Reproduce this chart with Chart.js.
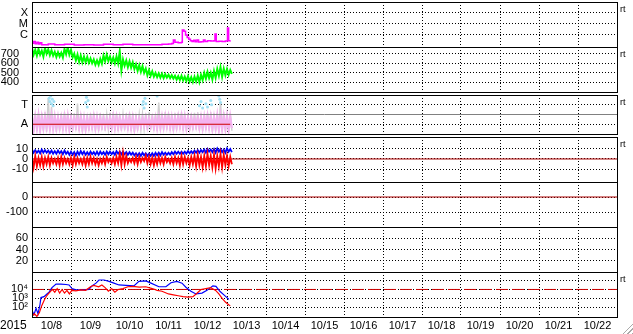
<!DOCTYPE html>
<html>
<head>
<meta charset="utf-8">
<script src="https://cdn.jsdelivr.net/npm/chart.js@4"></script>
<style>
  body { margin: 0; background: #fff; width: 633px; height: 334px; overflow: hidden; position: relative; }
  .p { position: absolute; left: 0; }
  .p canvas { display: block; }
  .grip { position: absolute; right: 0; bottom: 0; width: 13px; height: 13px;
          background: repeating-linear-gradient(135deg, transparent 0 2px, #aaa 2px 3px);
          clip-path: polygon(100% 0, 100% 100%, 0 100%); }
</style>
</head>
<body>
<div class="p" style="top:1px"><canvas id="xray" width="633" height="47"></canvas></div>
<div class="p" style="top:46px"><canvas id="speed" width="633" height="47"></canvas></div>
<div class="p" style="top:91px"><canvas id="phi" width="633" height="47"></canvas></div>
<div class="p" style="top:136px"><canvas id="bfield" width="633" height="47"></canvas></div>
<div class="p" style="top:181px"><canvas id="dst" width="633" height="47"></canvas></div>
<div class="p" style="top:226px"><canvas id="kp" width="633" height="47"></canvas></div>
<div class="p" style="top:271px"><canvas id="elec" width="633" height="63"></canvas></div>
<div class="grip"></div>
<script>
// time axis: hours since 10/8 00:00
const dayLabels = ['10/8','10/9','10/10','10/11','10/12','10/13','10/14','10/15','10/16','10/17','10/18','10/19','10/20','10/21','10/22'];
const yearLabel = '2015';
const BIN = 2; // hours per hi/lo bin
const dataEnd = 122;

// X-ray flux
const xrayHours = [0,1,2,3,4,5,6,10,14,20,26,32,38,44,50,56,62,70,76,80,84,86,87,88,90,92,92.5,93.5,94.5,95.5,96.5,97.5,98.5,99.5,100.5,101.5,102.5,104,105.5,106.5,108,110,112,112.6,113.4,115,117,119,120.3,121,122];
const xrayFlux = [1.8e-7,2.5e-7,1.6e-7,2.2e-7,1.5e-7,2.0e-7,1.3e-7,1.5e-7,1.3e-7,1.4e-7,1.2e-7,1.3e-7,1.2e-7,1.4e-7,1.25e-7,1.4e-7,1.25e-7,1.3e-7,1.25e-7,1.4e-7,1.5e-7,1.7e-7,3.5e-7,2.2e-7,2.0e-7,2.2e-7,2.8e-6,2.2e-6,1.0e-6,6e-7,4e-7,3e-7,2.5e-7,3.3e-7,2.4e-7,3.4e-7,2.3e-7,2.4e-7,3.5e-7,2.6e-7,3e-7,2.8e-7,2.9e-7,1.2e-6,2.6e-7,2.7e-7,2.6e-7,2.8e-7,4.3e-6,3e-7,3.1e-7];
const xrayTicks = [1e-4, 1e-5, 1e-6];
const xrayTickLabels = ['X', 'M', 'C'];

// solar wind speed, 2h bins
const speedHi = [760,740,750,730,760,745,735,720,715,710,750,770,740,700,690,680,670,665,650,640,630,645,680,690,670,660,670,725,640,630,620,610,590,580,570,545,530,515,500,495,490,485,480,475,470,465,470,460,465,455,460,470,480,500,510,500,520,540,560,545,540,530];
const speedLo = [690,680,690,670,700,685,680,665,670,660,695,690,660,630,615,610,610,605,600,585,585,595,620,625,610,600,600,525,575,560,555,540,520,510,500,475,470,460,455,450,445,450,445,440,430,425,420,415,410,405,410,405,425,440,445,430,450,470,460,475,480,490];
const speedTicks = [700, 600, 500, 400];

// IMF angle (T / A sectors), 2h bins
const pinkHi = [165,160,170,155,160,150,165,160,155,150,160,165,150,145,150,155,150,145,150,160,155,150,145,140,150,160,155,150,145,150,155,150,145,140,145,150,140,145,150,155,160,165,160,155,150,160,165,160,155,150,145,150,155,160,165,160,155,170,165,160,165,160];
const pinkLo = [40,50,35,55,60,50,45,55,60,50,55,45,60,65,55,50,45,60,65,55,60,70,65,70,60,55,60,65,70,60,55,45,60,70,75,65,70,60,55,60,65,70,60,55,65,70,60,55,60,65,70,60,55,65,60,50,55,40,45,50,40,55];
const grayHi = [185,190,195,195,200,330,250,185,180,190,200,195,185,190,280,190,185,180,190,195,185,190,185,180,195,200,190,185,180,190,195,190,185,180,185,190,200,185,180,290,190,200,195,185,190,195,200,190,185,190,195,200,190,185,195,200,190,195,300,200,195,190];
const grayLo = [20,25,15,30,20,25,30,20,25,30,25,20,30,35,25,20,25,30,35,30,25,35,30,40,35,30,25,30,35,30,25,20,30,40,45,35,40,30,25,30,35,40,30,25,35,40,30,25,30,35,40,30,25,35,30,20,25,15,20,25,20,30];
const cyanHours = [10.5,11,11.5,12,12.5,13,13.5,33,33.5,34,34.5,68,68.5,69,69.5,70,77,103,104,105,107,108,110,110.5,115,115.5,116];
const cyanDeg = [330,300,350,280,320,260,300,290,340,250,310,270,300,240,330,280,350,260,300,240,280,250,310,270,350,320,290];
const phiTicks = [270, 90];
const phiTickLabels = ['T', 'A'];

// Bt / Bz, 2h bins
const btHi = [9,8.5,8,9,8.5,8,8,7.5,8,7.5,8,7,7,6.5,7,7.5,7,6.5,7,6.5,7,7,6.5,7,7,6.5,7.5,7,7,6.5,6.5,6,5.5,5.5,6,5.5,5,5.5,6,6,6.5,6,6,6.5,7,7,7,7,7.5,7.5,8,8.5,8.5,9,9.5,9,9.5,10,9.5,9,10,9.5];
const btLo = [6,6,5.5,6,6,5.5,5,5,5.5,4.5,5,4,4,3.5,4,4.5,4,4,4.5,4,4,4.5,4,4.5,4.5,4,5,4.5,4.5,4,4,3.5,3,3,3.5,3,3,3,3.5,3.5,4,4,4,4.5,5,5,5,5,5.5,5.5,6,6,6.5,6,7,6.5,6,7,6.5,6,7,6.5];
const bzHi = [2,3,1,2,1,2,1,0,1,2,1,0,1,2,1,0,1,1,2,1,0,0,1,2,0,1,2,5,6,3,0,1,2,2,1,3,2,1,1,2,1,2,0,1,2,1,3,2,1,2,3,4,2,3,5,3,4,3,5,4,3,2];
const bzLo = [-8,-7,-6,-7,-5,-6,-4,-5,-6,-5,-4,-5,-6,-5,-4,-5,-6,-5,-4,-5,-6,-4,-5,-3,-4,-5,-4,-6,-5,-4,-3,-4,-5,-3,-2,-4,-5,-6,-5,-4,-5,-3,-4,-5,-4,-6,-5,-4,-6,-5,-7,-6,-8,-7,-6,-8,-9,-7,-8,-6,-7,-5];
const bTicks = [10, 0, -10];

const dstTicks = [0, -100];
const kpTicks = [60, 40, 20];

// electron flux (log10)
const elecBlueHours = [0,1.2,2.5,3.7,4.9,5.5,7.4,9.2,10.5,12.3,14.8,17.8,20.9,22.8,24.6,27,32,35,36.9,39.4,41.2,44.3,47.4,50.4,53.5,57.8,62.7,65.8,70.1,73.2,78.1,82.4,85.5,89.2,92.3,94.7,97.8,100.9,104.6,107.7,111.3,113.2,115.6,118.1,121.2];
const elecBlueLog = [1.7,1.2,1.9,1.3,2.3,3.1,3.2,3.5,3.7,4.2,4.6,4.6,4.55,4.5,4.1,3.95,3.95,4.0,4.4,4.7,5.05,5.05,4.9,4.7,4.5,4.45,4.4,4.9,4.95,4.7,4.3,4.3,4.75,4.9,4.7,4.25,3.8,3.5,3.6,3.9,4.4,4.35,3.8,3.4,2.9];
const elecRedHours = [0,1.5,3,4.5,6,7.5,9,11,12.5,14,15.5,17,18.5,20,21.5,23,24.5,27,30,33,36,38,41,43,45,47,49,51,53,56,59,62,66,70,74,77,80,84,87,90,93,96,99,101,104,107,110,113,115,117,119,121,122];
const elecRedLog = [1.0,1.3,1.0,1.4,2.2,2.8,3.3,3.7,4.0,3.7,4.1,3.6,4.0,3.6,3.9,3.5,3.9,3.85,3.95,3.9,4.3,4.45,4.3,4.5,4.2,3.8,4.1,3.7,4.0,4.1,4.3,4.35,4.25,4.3,4.1,3.9,3.8,3.5,3.4,3.3,3.2,3.15,3.2,3.5,4.0,4.1,4.2,3.9,3.5,3.0,2.6,2.3,2.2];
const elecTicks = [1e5, 1e4, 1e3, 1e2];
const elecTickLabels = ['', '10\u2074', '10\u00b3', '10\u00b2'];
const elecThreshold = 1e4;

const FONT = { family: '"Liberation Sans", Arial, sans-serif', size: 11 };

function series(xs, ys) { return xs.map((x, i) => ({ x: x, y: ys[i] })); }
function zigzag(hi, lo) {
  const pts = [];
  hi.forEach((v, i) => {
    pts.push({ x: i * BIN, y: v });
    pts.push({ x: i * BIN + BIN / 2, y: lo[i] });
  });
  return pts;
}
function hline(y, x1, x2) { return [{ x: x1, y: y }, { x: x2, y: y }]; }

const frame = {
  id: 'frame',
  afterDraw(chart, args, opts) {
    const { ctx, chartArea: a } = chart;
    ctx.save();
    ctx.strokeStyle = '#000';
    ctx.lineWidth = 1;
    ctx.strokeRect(Math.round(a.left) + 0.5, Math.round(a.top) + 0.5,
                   Math.round(a.right - a.left), Math.round(a.bottom - a.top));
    ctx.fillStyle = '#000';
    if (opts.rt) {
      ctx.font = '9px "Liberation Sans", Arial, sans-serif';
      ctx.textBaseline = 'middle';
      ctx.fillText('rt', a.right + 3, a.top + 8);
    }
    if (opts.year) {
      ctx.font = '12px "Liberation Sans", Arial, sans-serif';
      ctx.textBaseline = 'alphabetic';
      ctx.fillText(yearLabel, 0, a.bottom + 12);
    }
    ctx.restore();
  }
};

function panel(id, o) {
  const bottom = !!o.bottom;
  return new Chart(document.getElementById(id), {
    type: 'line',
    data: { datasets: o.datasets },
    options: {
      responsive: false,
      animation: false,
      events: [],
      layout: { padding: { top: 1, bottom: bottom ? 0 : 1, left: 0, right: 16 } },
      plugins: {
        legend: { display: false },
        tooltip: { enabled: false },
        frame: { rt: o.rt, year: bottom }
      },
      elements: { point: { radius: 0 }, line: { tension: 0 } },
      scales: {
        x: {
          type: 'linear', min: 0, max: 360,
          ticks: {
            stepSize: 12, display: bottom, autoSkip: false, maxRotation: 0,
            padding: 2, color: '#000', font: FONT,
            callback: v => v % 24 === 12 ? dayLabels[(v - 12) / 24] : ''
          },
          grid: {
            drawTicks: false, lineWidth: 1,
            color: c => (c.tick && c.tick.value % 24 === 0) ? '#000' : 'rgba(0,0,0,0)'
          },
          border: { display: false, dash: [1, 2] },
          afterFit: s => { s.height = bottom ? 17 : 0; s.paddingLeft = 0; s.paddingRight = 0; }
        },
        y: {
          type: o.type || 'linear', min: o.min, max: o.max,
          afterBuildTicks: s => { s.ticks = o.ticks.map(v => ({ value: v })); },
          ticks: {
            autoSkip: false, padding: o.pad || 4, color: '#000', font: FONT,
            callback: (v, i) => o.labels ? o.labels[i] : String(o.ticks[i])
          },
          grid: { drawTicks: false, color: '#000', lineWidth: 1 },
          border: { display: false, dash: [1, 2] },
          afterFit: s => { s.width = 32; s.paddingTop = 0; s.paddingBottom = 0; }
        }
      }
    },
    plugins: [frame]
  });
}

panel('xray', {
  type: 'logarithmic', min: 8e-8, max: 1e-3, ticks: xrayTicks, labels: xrayTickLabels, rt: true,
  datasets: [{ data: series(xrayHours, xrayFlux), borderColor: '#ff00ff', borderWidth: 1.5, stepped: true }]
});

panel('speed', {
  min: 300, max: 770, ticks: speedTicks, pad: 13, rt: true,
  datasets: [{ data: zigzag(speedHi, speedLo), borderColor: '#00ff00', borderWidth: 2 }]
});

panel('phi', {
  min: 0, max: 360, ticks: phiTicks, labels: phiTickLabels, rt: true,
  datasets: [
    { data: hline(90, 0, dataEnd), borderColor: '#cc0000', borderWidth: 1, order: 0 },
    { data: hline(180, 0, 360), borderColor: '#808080', borderWidth: 1, order: 1 },
    { data: series(cyanHours, cyanDeg), showLine: false, pointRadius: 1.5, pointBorderWidth: 0,
      pointBackgroundColor: '#a0e0f4', order: 2 },
    { data: zigzag(pinkHi, pinkLo), borderColor: '#f4b4f0', borderWidth: 2.2, order: 3 },
    { data: zigzag(grayHi, grayLo), borderColor: '#d0d0d0', borderWidth: 1.5, order: 4 }
  ]
});

panel('bfield', {
  min: -22, max: 21, ticks: bTicks, rt: true,
  datasets: [
    { data: zigzag(bzHi, bzLo), borderColor: '#ff0000', borderWidth: 1.8, order: 0 },
    { data: zigzag(btHi, btLo), borderColor: '#0000ff', borderWidth: 1.8, order: 1 },
    { data: hline(0, 0, 360), borderColor: '#aa0000', borderWidth: 1, order: 2 }
  ]
});

panel('dst', {
  min: -200, max: 100, ticks: dstTicks,
  datasets: [{ data: hline(0, 0, 360), borderColor: '#aa0000', borderWidth: 1 }]
});

panel('kp', { min: 0, max: 80, ticks: kpTicks, datasets: [] });

panel('elec', {
  type: 'logarithmic', min: 8.7, max: 8.7e5, ticks: elecTicks, labels: elecTickLabels, rt: true, bottom: true,
  datasets: [
    { data: series(elecRedHours, elecRedLog.map(v => Math.pow(10, v))), borderColor: '#ff0000', borderWidth: 1.2, order: 0 },
    { data: series(elecBlueHours, elecBlueLog.map(v => Math.pow(10, v))), borderColor: '#0000ff', borderWidth: 1.2, order: 1 },
    { data: hline(elecThreshold, 0, 360), borderColor: '#cc0000', borderWidth: 1, borderDash: [12, 4], order: 2 }
  ]
});
</script>
</body>
</html>
